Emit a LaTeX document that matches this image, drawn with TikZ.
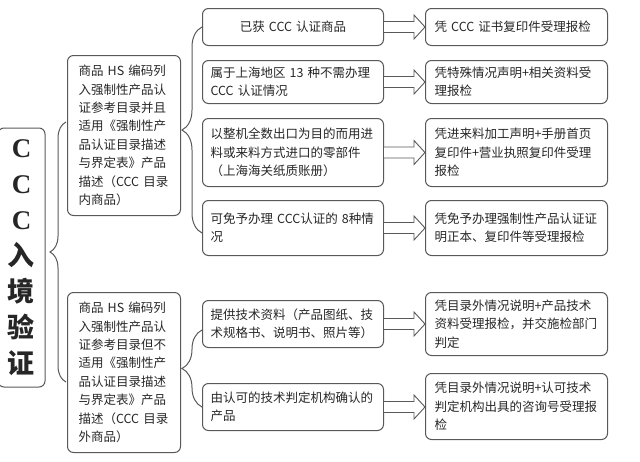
\documentclass[tikz,border=0pt]{standalone}
\usepackage{fontspec}
\setmainfont{Noto Sans CJK SC}
\newfontfamily\latinserif{Liberation Serif}
\usepackage{tikz}
\usetikzlibrary{calc,decorations.pathreplacing}

\newcommand{\blockarrow}[2]{%
\draw[arrowline] ($(#1.east)+(0,-5.5)$) -- ($(#1.east -| #2.west)+(-11,-5.5)$) -- ($(#1.east -| #2.west)+(-11,-12)$) -- (#1.east -| #2.west) -- ($(#1.east -| #2.west)+(-11,12)$) -- ($(#1.east -| #2.west)+(-11,5.5)$) -- ($(#1.east)+(0,5.5)$);}

\begin{document}
\begin{tikzpicture}[x=1pt,y=-1pt,
  boxline/.style={draw=black!65, line width=1pt, rounded corners=6pt, text=black!85},
  leftbox/.style={boxline, minimum width=47pt, minimum height=259pt, align=center, font=\fontsize{27}{36}\selectfont\bfseries},
  catbox/.style={boxline, anchor=north west, inner xsep=11pt, text width=91pt, minimum height=160pt, align=left, font=\fontsize{12.5}{18.4}\selectfont},
  itembox/.style={boxline, anchor=north west, inner xsep=8pt, text width=165pt, align=left, font=\fontsize{12.5}{18.4}\selectfont},
  docbox/.style={boxline, anchor=north west, inner xsep=9pt, text width=164pt, align=left, font=\fontsize{12.5}{18.4}\selectfont},
  arrowline/.style={draw=black!65, line width=0.9pt, fill=white, line join=miter},
  bracket/.style={draw=black!65, line width=1pt, decorate}]
\useasboundingbox (0,0) rectangle (640,461);
\clip (0,0) rectangle (640,461);

\node[leftbox] (ccc) at (21.5,257.5) {{\latinserif C}\\{\latinserif C}\\{\latinserif C}\\入\\境\\验\\证};

\node[catbox] (inlist) at (67,55) {商品 HS 编码列\\入强制性产品认\\证参考目录并且\\适用《强制性产\\品认证目录描述\\与界定表》产品\\描述（CCC 目录\\内商品）};
\node[catbox] (outlist) at (67,292) {商品 HS 编码列\\入强制性产品认\\证参考目录但不\\适用《强制性产\\品认证目录描述\\与界定表》产品\\描述（CCC 目录\\外商品）};

\node[itembox, minimum height=37pt, align=center] (got) at (202,8) {已获 CCC 认证商品};
\node[itembox, minimum height=43pt] (local) at (202,60) {属于上海地区~13~种不需办理\\CCC 认证情况};
\node[itembox, minimum height=68pt] (parts) at (202,118) {以整机全数出口为目的而用进\\料或来料方式进口的零部件\\（上海海关纸质账册）};
\node[itembox, minimum height=55pt] (exempt) at (202,200) {\mbox{可免予办理 CCC认证的 8种情}\\况};
\node[itembox, minimum height=47pt] (techdoc) at (202,300) {提供技术资料（产品图纸、技\\术规格书、说明书、照片等）};
\node[itembox, minimum height=47pt] (judged) at (202,383) {由认可的技术判定机构确认的\\产品};

\node[docbox, minimum height=37pt] (r-got) at (425,8) {凭 CCC 证书复印件受理报检};
\node[docbox, minimum height=43pt] (r-local) at (425,60) {凭特殊情况声明+相关资料受\\理报检};
\node[docbox, minimum height=68pt] (r-parts) at (425,118) {凭进来料加工声明+手册首页\\复印件+营业执照复印件受理\\报检};
\node[docbox, minimum height=55pt] (r-exempt) at (425,200) {凭免予办理强制性产品认证证\\明正本、复印件等受理报检};
\node[docbox, minimum height=63pt] (r-techdoc) at (425,292) {凭目录外情况说明+产品技术\\资料受理报检，并交施检部门\\判定};
\node[docbox, minimum height=66pt] (r-judged) at (425,373) {凭目录外情况说明+认可技术\\判定机构出具的咨询号受理报\\检};

\coordinate (b1top) at (66,122);
\coordinate (b1bot) at (66,382);
\coordinate (b2top) at (got.west);
\coordinate (b2bot) at (202,233);
\coordinate (b3top) at (202,330);
\coordinate (b3bot) at (202,407);
\draw[bracket, decoration={brace, amplitude=16pt}] (b1bot) -- (b1top);
\draw[bracket, decoration={brace, amplitude=20pt}] (b2bot) -- (b2top);
\draw[bracket, decoration={brace, amplitude=20pt}] (b3bot) -- (b3top);

\blockarrow{got}{r-got}
\blockarrow{local}{r-local}
\blockarrow{parts}{r-parts}
\blockarrow{exempt}{r-exempt}
\blockarrow{techdoc}{r-techdoc}
\blockarrow{judged}{r-judged}
\end{tikzpicture}
\end{document}
